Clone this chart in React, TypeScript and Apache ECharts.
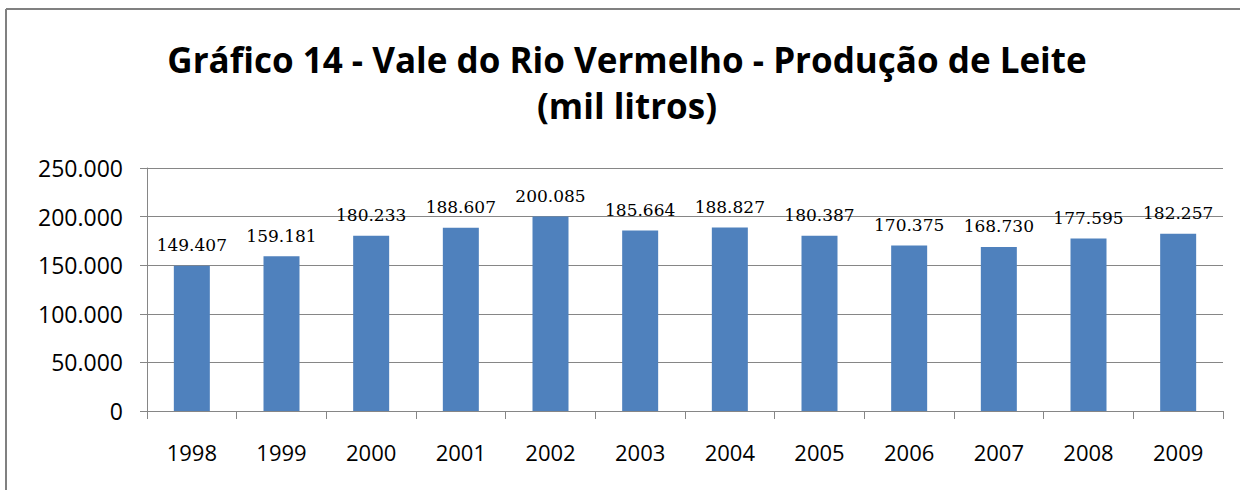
import React, { useEffect, useRef } from "react";
import * as echarts from "echarts";

const categories = ["1998", "1999", "2000", "2001", "2002", "2003", "2004", "2005", "2006", "2007", "2008", "2009"];
const production = [149407, 159181, 180233, 188607, 200085, 185664, 188827, 180387, 170375, 168730, 177595, 182257];
const titleLines = ["Gráfico 14 - Vale do Rio Vermelho - Produção de Leite", "(mil litros)"];

const fmt = (v: number) => {
  const s = Math.round(v).toString();
  return s.replace(/\B(?=(\d{3})+(?!\d))/g, ".");
};

export default function App() {
  const ref = useRef<HTMLDivElement>(null);
  useEffect(() => {
    if (!ref.current) return;
    const chart = echarts.init(ref.current, undefined, { renderer: "svg" });
    const gray = "#868686";
    chart.setOption({
      animation: false,
      backgroundColor: "#ffffff",
      title: {
        text: titleLines.join("\n"),
        left: 627,
        textAlign: "center",
        top: 36,
        padding: 0,
        textStyle: {
          fontFamily: "Open Sans",
          fontWeight: "bold",
          fontSize: 35,
          lineHeight: 46,
          color: "#000000",
        },
      },
      graphic: [
        { type: "line", shape: { x1: 6, y1: 9, x2: 1240, y2: 9 }, style: { stroke: "#808080", lineWidth: 2 } },
        { type: "line", shape: { x1: 6, y1: 9, x2: 6, y2: 490 }, style: { stroke: "#808080", lineWidth: 2 } },
      ],
      grid: { left: 147, right: 17, top: 168, bottom: 79, containLabel: false },
      xAxis: {
        type: "category",
        data: categories,
        axisLine: { show: true, lineStyle: { color: gray, width: 1 } },
        axisTick: { show: true, length: 8, alignWithLabel: false, lineStyle: { color: gray } },
        axisLabel: { fontFamily: "Open Sans", fontSize: 22, color: "#000000", margin: 30 },
      },
      yAxis: {
        type: "value",
        min: 0,
        max: 250000,
        interval: 50000,
        axisLine: { show: true, lineStyle: { color: gray, width: 1 } },
        axisTick: { show: true, length: 7, lineStyle: { color: gray } },
        splitLine: { show: true, lineStyle: { color: gray, width: 1 } },
        axisLabel: {
          fontFamily: "Open Sans",
          fontSize: 23,
          color: "#000000",
          margin: 24,
          formatter: (v: number) => fmt(v),
        },
      },
      series: [
        {
          type: "bar",
          data: production,
          barWidth: 36,
          itemStyle: { color: "#4F81BD" },
          label: {
            show: true,
            position: "top",
            distance: 12,
            fontFamily: "DejaVu Serif",
            fontSize: 17,
            color: "#000000",
            formatter: (p: any) => fmt(p.value),
          },
        },
      ],
    });
    return () => chart.dispose();
  }, []);
  return <div ref={ref} style={{ position: "absolute", left: 0, top: 0, width: 1240, height: 490 }} />;
}
